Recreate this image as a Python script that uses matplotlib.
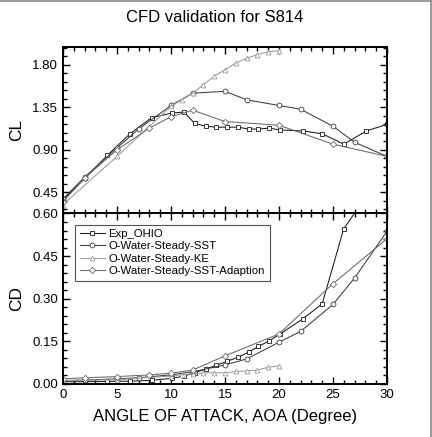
import numpy as np
import matplotlib
matplotlib.use('Agg')
import matplotlib.pyplot as plt
from matplotlib.ticker import MultipleLocator, FormatStrFormatter
from matplotlib.lines import Line2D

plt.rcParams['font.family'] = ['Liberation Sans', 'DejaVu Sans']

# ---- data ----
exp_aoa = [0, 2.05, 4.1, 6.2, 8.2, 10.1, 11.2, 12.2, 13.2, 14.2, 15.2, 16.2, 17.2,
           18.1, 19.1, 20.1, 22.2, 24.0, 26.0, 28.1, 30.0]
exp_cl = [0.37, 0.60, 0.84, 1.07, 1.24, 1.29, 1.30, 1.18, 1.15, 1.14, 1.14, 1.14, 1.12,
          1.12, 1.13, 1.11, 1.10, 1.07, 0.96, 1.10, 1.17]
exp_cd = [0.008, 0.008, 0.009, 0.010, 0.013, 0.020, 0.028, 0.040, 0.052, 0.066, 0.080,
          0.094, 0.112, 0.132, 0.152, 0.176, 0.229, 0.282, 0.547, 0.66, 0.78]

sst_aoa = [0, 2, 5, 7, 10, 12, 15, 17, 20, 22, 25, 27, 30]
sst_cl = [0.38, 0.61, 0.92, 1.12, 1.37, 1.50, 1.52, 1.43, 1.37, 1.33, 1.15, 0.98, 0.83]
sst_cd = [0.012, 0.014, 0.018, 0.022, 0.032, 0.043, 0.067, 0.088, 0.147, 0.185, 0.280,
          0.373, 0.537]

ke_aoa = [0, 5, 10, 11, 12, 13, 14, 15, 16, 17, 18, 19, 20]
ke_cl = [0.32, 0.83, 1.36, 1.43, 1.50, 1.59, 1.68, 1.75, 1.82, 1.87, 1.91, 1.94, 1.95]
ke_cd = [0.012, 0.015, 0.028, 0.032, 0.036, 0.038, 0.040, 0.039, 0.044, 0.046, 0.049,
         0.059, 0.064]

ada_aoa = [0, 2, 5, 8, 10, 12, 15, 20, 25, 30]
ada_cl = [0.35, 0.60, 0.90, 1.13, 1.25, 1.32, 1.20, 1.16, 0.96, 0.83]
ada_cd = [0.018, 0.022, 0.026, 0.032, 0.038, 0.049, 0.099, 0.176, 0.353, 0.511]

labels = ['Exp_OHIO', 'O-Water-Steady-SST', 'O-Water-Steady-KE', 'O-Water-Steady-SST-Adaption']
colors = ['#1a1a1a', '#3c3c3c', '#9a9a9a', '#6a6a6a']
markers = ['s', 'o', '^', 'D']


def style_axes(ax, ymaj, ymin):
	ax.set_xlim(0, 30)
	ax.xaxis.set_major_locator(MultipleLocator(5))
	ax.xaxis.set_minor_locator(MultipleLocator(1))
	ax.yaxis.set_major_locator(MultipleLocator(ymaj))
	ax.yaxis.set_minor_locator(MultipleLocator(ymin))
	ax.yaxis.set_major_formatter(FormatStrFormatter('%.2f'))
	ax.tick_params(which='both', direction='in', top=True, right=True, labelsize=9.5, width=1.0)
	ax.tick_params(which='major', length=5)
	ax.tick_params(which='minor', length=3)
	for s in ax.spines.values():
		s.set_linewidth(1.4)


def plot_series(ax, y_sets):
	xs = [exp_aoa, sst_aoa, ke_aoa, ada_aoa]
	for x, y, c, m, lab in zip(xs, y_sets, colors, markers, labels):
		ms = 3.2 if m == 'D' else 3.5
		ax.plot(x, y, color=c, lw=0.75, marker=m, ms=ms, mfc='white', mec=c, mew=0.6, label=lab)


fig = plt.figure(figsize=(4.32, 4.37), dpi=100)
ax1 = fig.add_axes([0.1458, 0.5115, 0.75, 0.3810])
ax2 = fig.add_axes([0.1458, 0.1213, 0.75, 0.3902])

plot_series(ax1, [exp_cl, sst_cl, ke_cl, ada_cl])
style_axes(ax1, 0.45, 0.09)
ax1.set_ylim(0.225, 1.99)
ax1.tick_params(labelbottom=False)
ax1.set_ylabel('CL', fontsize=12.5, labelpad=6)

plot_series(ax2, [exp_cd, sst_cd, ke_cd, ada_cd])
style_axes(ax2, 0.15, 0.03)
ax2.set_ylim(0, 0.6)
ax2.set_ylabel('CD', fontsize=12.5, labelpad=6)
ax2.set_xlabel('ANGLE OF ATTACK, AOA (Degree)', fontsize=12, labelpad=6)

leg = ax2.legend(loc='upper left', bbox_to_anchor=(0.037, 0.935), fontsize=8.2,
                 handlelength=2.2, handletextpad=0.35, labelspacing=0.2,
                 borderaxespad=0, fancybox=False, framealpha=1, edgecolor='#555555')
leg.get_frame().set_linewidth(0.8)

fig.text(215 / 432, 1 - 17 / 437, 'CFD validation for S814', ha='center', va='center', fontsize=12)

# thin grey border of the original figure
fig.add_artist(Line2D([0, 1], [0.998, 0.998], color='#888888', lw=1.2, transform=fig.transFigure))
fig.add_artist(Line2D([0.997, 0.997], [0, 1], color='#888888', lw=1.2, transform=fig.transFigure))

fig.savefig('out.png', dpi=100)
